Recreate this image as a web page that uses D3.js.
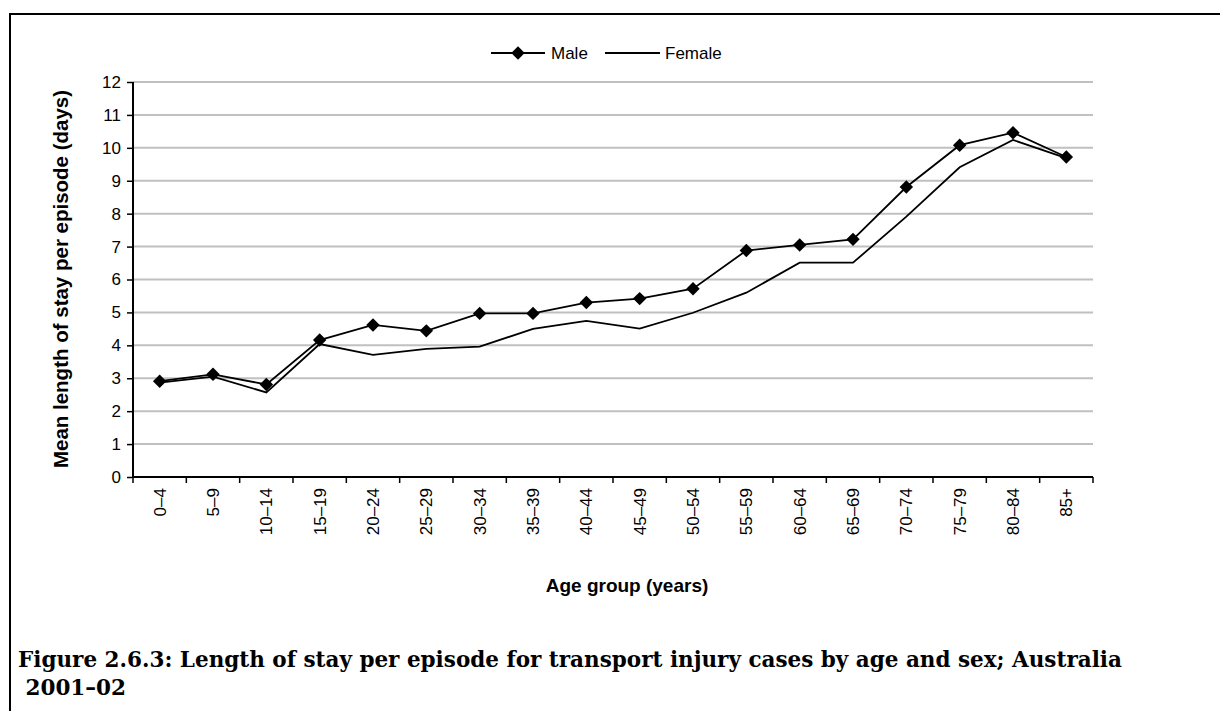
<!DOCTYPE html>
<html lang="en">
<head>
<meta charset="utf-8">
<title>Length of stay per episode</title>
<script src="https://d3js.org/d3.v7.min.js"></script>
<style>
  body, html { margin: 0; padding: 0; background: #fff; overflow: hidden; }
  svg { display: block; }
  .tick text { font-family: "Liberation Sans", Arial, sans-serif; font-size: 17px; fill: #000; }
  .axis-title { font-family: "Liberation Sans", Arial, sans-serif; font-size: 19px; font-weight: bold; }
  .legend text { font-family: "Liberation Sans", Arial, sans-serif; font-size: 17px; }
  .caption { font-family: "DejaVu Serif", serif; font-size: 21.5px; font-weight: bold; }
</style>
</head>
<body>
<svg width="1220" height="711"></svg>
<script>
// age groups and mean length of stay (days)
var ageGroups = ["0–4", "5–9", "10–14", "15–19", "20–24", "25–29", "30–34", "35–39", "40–44",
                 "45–49", "50–54", "55–59", "60–64", "65–69", "70–74", "75–79", "80–84", "85+"];
var male   = [2.91, 3.12, 2.81, 4.16, 4.62, 4.44, 4.97, 4.97, 5.30, 5.42, 5.72, 6.88, 7.05, 7.22, 8.81, 10.08, 10.46, 9.72];
var female = [2.87, 3.05, 2.57, 4.04, 3.71, 3.89, 3.96, 4.50, 4.74, 4.51, 4.99, 5.60, 6.51, 6.51, 7.91, 9.41, 10.24, 9.69];
var yTicks = d3.range(0, 13);

var svg = d3.select("svg");
var plotLeft = 133, plotRight = 1093, plotTop = 82, plotBottom = 477;

var x = d3.scaleBand().domain(ageGroups).range([plotLeft, plotRight]);
var y = d3.scaleLinear().domain([0, 12]).range([plotBottom, plotTop]);

// frame (top and left rules)
svg.append("line").attr("x1", 9).attr("x2", 1220).attr("y1", 14).attr("y2", 14)
  .attr("stroke", "#000").attr("stroke-width", 2);
svg.append("line").attr("x1", 10).attr("x2", 10).attr("y1", 14).attr("y2", 711)
  .attr("stroke", "#000").attr("stroke-width", 2);

// gridlines
svg.append("g").selectAll("line").data(yTicks.filter(function (d) { return d > 0; }))
  .enter().append("line")
  .attr("x1", plotLeft).attr("x2", plotRight)
  .attr("y1", function (d) { return y(d); }).attr("y2", function (d) { return y(d); })
  .attr("stroke", "#c0c0c0").attr("stroke-width", 2);

// y axis
var yAxis = svg.append("g").attr("transform", "translate(" + plotLeft + ",0)")
  .call(d3.axisLeft(y).tickValues(yTicks).tickSize(6).tickPadding(6));
yAxis.select(".domain").attr("stroke-width", 2).attr("d", "M0," + y(0) + "V" + y(12));
yAxis.selectAll(".tick line").attr("stroke-width", 1.5);

// x axis: ticks at band edges
var xAxis = svg.append("g").attr("transform", "translate(0," + plotBottom + ")");
xAxis.append("line").attr("x1", plotLeft).attr("x2", plotRight).attr("stroke", "#000").attr("stroke-width", 2);
var edges = ageGroups.map(function (d) { return x(d); }).concat([plotRight]);
xAxis.selectAll(".edge").data(edges).enter().append("line")
  .attr("x1", function (d) { return d; }).attr("x2", function (d) { return d; })
  .attr("y1", 0).attr("y2", 6).attr("stroke", "#000").attr("stroke-width", 1.5);
xAxis.selectAll(".tick").data(ageGroups).enter().append("g").attr("class", "tick")
  .append("text")
  .attr("transform", function (d) { return "translate(" + (x(d) + x.bandwidth() / 2 + 6) + ",11) rotate(-90)"; })
  .attr("text-anchor", "end")
  .text(function (d) { return d; });

// axis titles
svg.append("text").attr("class", "axis-title")
  .attr("transform", "translate(68,279) rotate(-90)")
  .attr("text-anchor", "middle")
  .style("font-size", "20.5px")
  .text("Mean length of stay per episode (days)");
svg.append("text").attr("class", "axis-title")
  .attr("x", 627).attr("y", 592).attr("text-anchor", "middle")
  .text("Age group (years)");

// lines
var line = d3.line()
  .x(function (d, i) { return x(ageGroups[i]) + x.bandwidth() / 2; })
  .y(function (d) { return y(d); });

svg.append("path").datum(female).attr("d", line)
  .attr("fill", "none").attr("stroke", "#000").attr("stroke-width", 1.8);
svg.append("path").datum(male).attr("d", line)
  .attr("fill", "none").attr("stroke", "#000").attr("stroke-width", 1.8);

var diamond = d3.symbol().type(d3.symbolSquare).size(90);
svg.append("g").selectAll("path").data(male).enter().append("path")
  .attr("d", diamond)
  .attr("transform", function (d, i) {
    return "translate(" + (x(ageGroups[i]) + x.bandwidth() / 2) + "," + y(d) + ") rotate(45)";
  })
  .attr("fill", "#000");

// legend
var legend = svg.append("g").attr("class", "legend");
legend.append("line").attr("x1", 491).attr("x2", 545).attr("y1", 53).attr("y2", 53)
  .attr("stroke", "#000").attr("stroke-width", 1.8);
legend.append("path").attr("d", diamond).attr("transform", "translate(518,53) rotate(45)");
legend.append("text").attr("x", 551).attr("y", 59).text("Male");
legend.append("line").attr("x1", 605).attr("x2", 660).attr("y1", 53).attr("y2", 53)
  .attr("stroke", "#000").attr("stroke-width", 1.8);
legend.append("text").attr("x", 665).attr("y", 59).text("Female");

// caption
svg.append("text").attr("class", "caption").attr("x", 18).attr("y", 667)
  .text("Figure 2.6.3: Length of stay per episode for transport injury cases by age and sex; Australia");
svg.append("text").attr("class", "caption").attr("x", 18).attr("y", 695)
  .text(" 2001–02").style("white-space", "pre");
</script>
</body>
</html>
